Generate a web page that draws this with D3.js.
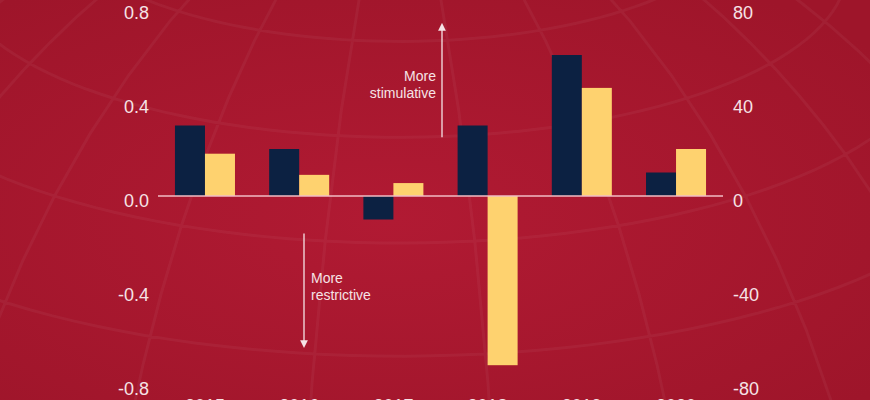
<!DOCTYPE html>
<html>
<head>
<meta charset="utf-8">
<script src="https://cdn.jsdelivr.net/npm/d3@7"></script>
<style>
  body { margin: 0; background: #a5172d; }
  svg { display: block; }
</style>
</head>
<body>
<div id="chart"></div>
<script>
var width = 870,
    height = 400,
    margin = {top: 8, bottom: 16, left: 158, right: 147};

var years = ["2015", "2016", "2017", "2018", "2019", "2020"];
var leftValues = [0.30, 0.20, -0.10, 0.30, 0.60, 0.10];   // navy bars, left axis
var rightValues = [18, 9, 5.5, -72, 46, 20];               // yellow bars, right axis
var leftTicks = [0.8, 0.4, 0.0, -0.4, -0.8];
var rightTicks = [80, 40, 0, -40, -80];

var navy = "#0c2142",
    yellow = "#fed26f",
    textColor = "#f6e3e6";

var svg = d3.select("#chart")
    .append("svg")
    .attr("width", width)
    .attr("height", height);

// background with soft radial light
var defs = svg.append("defs");
var grad = defs.append("radialGradient")
    .attr("id", "bg")
    .attr("cx", "45%").attr("cy", "55%").attr("r", "70%");
grad.append("stop").attr("offset", "0%").attr("stop-color", "#b11a33");
grad.append("stop").attr("offset", "100%").attr("stop-color", "#9e152a");

svg.append("rect")
    .attr("width", width)
    .attr("height", height)
    .attr("fill", "url(#bg)");

// faint globe grid behind the chart, pole above the frame
var projection = d3.geoOrthographic()
    .scale(760)
    .translate([400, 540])
    .rotate([8, -22, 0])
    .clipAngle(90);
var geoPath = d3.geoPath(projection);
svg.append("path")
    .datum(d3.geoGraticule().step([16, 9])())
    .attr("d", geoPath)
    .attr("fill", "none")
    .attr("stroke", "#ffffff")
    .attr("stroke-opacity", 0.045)
    .attr("stroke-width", 3);

var x = d3.scaleBand()
    .domain(years)
    .range([margin.left, width - margin.right])
    .paddingInner(0.363)
    .paddingOuter(0.18);

var yLeft = d3.scaleLinear()
    .domain([-0.8, 0.8])
    .range([height - margin.bottom, margin.top]);

var yRight = d3.scaleLinear()
    .domain([-80, 80])
    .range([height - margin.bottom, margin.top]);

var bw = x.bandwidth() / 2;

// navy bars
svg.append("g")
    .selectAll("rect")
    .data(leftValues)
    .join("rect")
    .attr("x", function(d, i) { return x(years[i]); })
    .attr("y", function(d) { return yLeft(Math.max(0, d)); })
    .attr("width", bw)
    .attr("height", function(d) { return Math.abs(yLeft(d) - yLeft(0)); })
    .attr("fill", navy);

// yellow bars
svg.append("g")
    .selectAll("rect")
    .data(rightValues)
    .join("rect")
    .attr("x", function(d, i) { return x(years[i]) + bw; })
    .attr("y", function(d) { return yRight(Math.max(0, d)); })
    .attr("width", bw)
    .attr("height", function(d) { return Math.abs(yRight(d) - yRight(0)); })
    .attr("fill", yellow);

// zero line
svg.append("line")
    .attr("x1", margin.left)
    .attr("x2", width - margin.right)
    .attr("y1", yLeft(0))
    .attr("y2", yLeft(0))
    .attr("stroke", "#f2bcc4")
    .attr("stroke-width", 1.5);

// plain hyphen for negatives, as in the original
function hyphen(fmt) {
    return function(d) { return fmt(d).replace("\u2212", "-"); };
}

// left axis
var leftAxis = svg.append("g")
    .attr("transform", "translate(" + (margin.left - 9) + ",0)")
    .call(d3.axisLeft(yLeft).tickValues(leftTicks).tickSize(0).tickPadding(0)
        .tickFormat(hyphen(d3.format(".1f"))));

// right axis
var rightAxis = svg.append("g")
    .attr("transform", "translate(" + (width - margin.right + 10) + ",0)")
    .call(d3.axisRight(yRight).tickValues(rightTicks).tickSize(0).tickPadding(0)
        .tickFormat(hyphen(d3.format("d"))));

// bottom axis (labels run off the bottom edge)
var bottomAxis = svg.append("g")
    .attr("transform", "translate(0," + (height - margin.bottom) + ")")
    .call(d3.axisBottom(x).tickSize(0).tickPadding(12));

[leftAxis, rightAxis, bottomAxis].forEach(function(g) {
    g.select(".domain").remove();
    g.selectAll("text")
        .attr("fill", textColor)
        .style("font-family", "Liberation Sans, Arial, sans-serif")
        .style("font-size", "18px");
});
leftAxis.selectAll("text").attr("dy", "0.6em");
rightAxis.selectAll("text").attr("dy", "0.6em");
bottomAxis.selectAll("text").attr("dy", "0.9em");

// arrow annotations
defs.append("marker")
    .attr("id", "head")
    .attr("viewBox", "0 0 10 10")
    .attr("refX", 5).attr("refY", 5)
    .attr("markerWidth", 6).attr("markerHeight", 6)
    .attr("orient", "auto-start-reverse")
    .append("path")
    .attr("d", "M0,0L10,5L0,10z")
    .attr("fill", "#f6e3e6");

svg.append("line")
    .attr("x1", 442).attr("x2", 442)
    .attr("y1", yLeft(0.25)).attr("y2", yLeft(0.72))
    .attr("stroke", "#f6e3e6")
    .attr("stroke-width", 1.3)
    .attr("marker-end", "url(#head)");

svg.append("line")
    .attr("x1", 304).attr("x2", 304)
    .attr("y1", yLeft(-0.16)).attr("y2", yLeft(-0.63))
    .attr("stroke", "#f6e3e6")
    .attr("stroke-width", 1.3)
    .attr("marker-end", "url(#head)");

var note = svg.append("g")
    .attr("fill", textColor)
    .style("font-family", "Liberation Sans, Arial, sans-serif")
    .style("font-size", "14px");

note.append("text").attr("x", 436).attr("y", 81).attr("text-anchor", "end").text("More");
note.append("text").attr("x", 436).attr("y", 98).attr("text-anchor", "end").text("stimulative");
note.append("text").attr("x", 311).attr("y", 283).attr("text-anchor", "start").text("More");
note.append("text").attr("x", 311).attr("y", 300).attr("text-anchor", "start").text("restrictive");
</script>
</body>
</html>
